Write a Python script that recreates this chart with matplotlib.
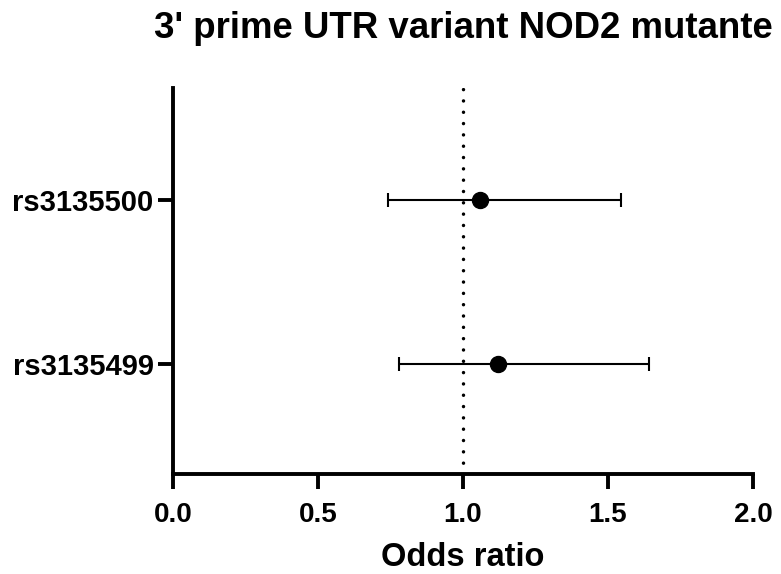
import matplotlib
matplotlib.use("Agg")
from matplotlib import pyplot as plt

# данные: отношение шансов и 95% ДИ
snps = ["rs3135499", "rs3135500"]
odds = [1.12, 1.06]
ci_low = [0.78, 0.74]
ci_high = [1.64, 1.545]
xticks = [0.0, 0.5, 1.0, 1.5, 2.0]

plt.rcParams['font.family'] = ['Liberation Sans', 'DejaVu Sans']
plt.rcParams['font.weight'] = 'bold'

fig = plt.figure(figsize=(7.81, 5.74), dpi=100)
ax = fig.add_axes([0.2215, 0.1742, 0.7427, 0.6725])

ypos = list(range(len(snps)))
err = [[o - l for o, l in zip(odds, ci_low)], [h - o for o, h in zip(odds, ci_high)]]

ax.axvline(1.0, color='black', lw=2.5, linestyle=(0, (0.01, 3.25)),
           dash_capstyle='round', zorder=1)
ax.errorbar(odds, ypos, xerr=err, fmt='o', color='black', ms=11.5,
            elinewidth=1.5, capsize=5, capthick=1.5, zorder=3)

ax.set_xlim(0, 2.0)
ax.set_ylim(-0.67, 1.683)
ax.set_xticks(xticks)
ax.set_xticklabels([f"{t:.1f}" for t in xticks])
ax.set_yticks(ypos)
ax.set_yticklabels(snps)

for s in ['top', 'right']:
    ax.spines[s].set_visible(False)
for s in ['left', 'bottom']:
    ax.spines[s].set_linewidth(2.8)

ax.tick_params(axis='x', length=11, width=2.8, labelsize=20, pad=9)
ax.tick_params(axis='y', length=11, width=2.8, labelsize=21, pad=3)
ax.set_xlabel("Odds ratio", fontsize=23.5, fontweight='bold', labelpad=10)
ax.set_title("3' prime UTR variant NOD2 mutante", fontsize=26.4, fontweight='bold', pad=36)

fig.savefig("out.png", dpi=100)
